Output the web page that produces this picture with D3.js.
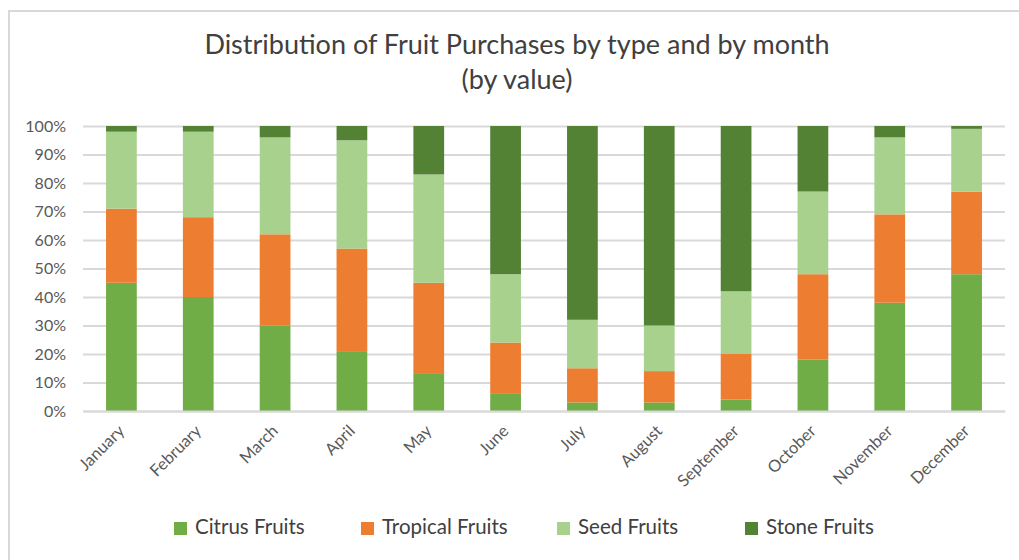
<!DOCTYPE html>
<html>
<head>
<meta charset="utf-8">
<script src="https://cdn.jsdelivr.net/npm/d3@7"></script>
<style>
  body { margin: 0; background: #fff; }
  svg { display: block; font-family: Lato, "Open Sans", sans-serif; }
</style>
</head>
<body>
<svg id="chart" width="1019" height="560"></svg>
<script>
// data (percent of monthly purchase value)
const months = ["January", "February", "March", "April", "May", "June",
                "July", "August", "September", "October", "November", "December"];
const citrus   = [45, 40, 30, 21, 13, 6, 3, 3, 4, 18, 38, 48];
const tropical = [26, 28, 32, 36, 32, 18, 12, 11, 16, 30, 31, 29];
const seed     = [27, 30, 34, 38, 38, 24, 17, 16, 22, 29, 27, 22];
const stone    = [2, 2, 4, 5, 17, 52, 68, 70, 58, 23, 4, 1];
const seriesNames = ["Citrus Fruits", "Tropical Fruits", "Seed Fruits", "Stone Fruits"];
const colors = ["#70AD47", "#ED7D31", "#A9D18E", "#548235"];

const svg = d3.select("#chart");
const margin = { top: 126, left: 83, right: 14, bottom: 149 };
const width = 1019 - margin.left - margin.right;
const height = 560 - margin.top - margin.bottom;

// chart frame (top and left edges visible)
svg.append("path")
    .attr("d", "M9,560V11H1019")
    .attr("fill", "none")
    .attr("stroke", "#d9d9d9")
    .attr("stroke-width", 2);

// title
const title = svg.append("text")
    .attr("text-anchor", "middle")
    .attr("fill", "#404040")
    .attr("font-size", 27);
title.append("tspan").attr("x", 517).attr("y", 54).text("Distribution of Fruit Purchases by type and by month");
title.append("tspan").attr("x", 517).attr("y", 89).text("(by value)");

const table = months.map((m, i) => ({
    month: m,
    "Citrus Fruits": citrus[i],
    "Tropical Fruits": tropical[i],
    "Seed Fruits": seed[i],
    "Stone Fruits": stone[i]
}));
const stacked = d3.stack().keys(seriesNames)(table);

const x = d3.scaleBand().domain(months).range([0, width]).paddingInner(0.6).paddingOuter(0.3);
const y = d3.scaleLinear().domain([0, 100]).range([height, 0]);

const g = svg.append("g").attr("transform", `translate(${margin.left},${margin.top})`);

// gridlines + y labels
const yAxis = g.append("g")
    .call(d3.axisLeft(y).tickValues(d3.range(0, 101, 10)).tickSize(-width).tickFormat(d => d + "%"));
yAxis.select(".domain").remove();
yAxis.selectAll(".tick line").attr("stroke", "#d9d9d9").attr("stroke-width", 2);
yAxis.selectAll(".tick text")
    .attr("x", -17)
    .attr("fill", "#595959")
    .attr("font-size", 16)
    .attr("font-family", "Lato, sans-serif");

// bars
g.append("g").selectAll("g")
    .data(stacked)
    .enter().append("g")
    .attr("fill", (d, i) => colors[i])
    .selectAll("rect")
    .data(d => d)
    .enter().append("rect")
    .attr("x", d => x(d.data.month))
    .attr("y", d => y(d[1]))
    .attr("width", x.bandwidth())
    .attr("height", d => y(d[0]) - y(d[1]));

// x axis
const xAxis = g.append("g")
    .attr("transform", `translate(0,${height})`)
    .call(d3.axisBottom(x).tickSize(0));
xAxis.select(".domain").attr("stroke", "#d9d9d9").attr("stroke-width", 2);
xAxis.selectAll(".tick text")
    .attr("fill", "#595959")
    .attr("font-size", 16.5)
    .attr("font-family", "Lato, sans-serif")
    .attr("text-anchor", "end")
    .attr("dy", null)
    .attr("y", 0)
    .attr("transform", "translate(4,21) rotate(-45)");

// legend
const legendX = [174, 361, 557, 745];
const legend = svg.append("g").selectAll("g")
    .data(seriesNames)
    .enter().append("g")
    .attr("transform", (d, i) => `translate(${legendX[i]},522)`);
legend.append("rect")
    .attr("width", 13)
    .attr("height", 13)
    .attr("fill", (d, i) => colors[i]);
legend.append("text")
    .attr("x", 21)
    .attr("y", 12)
    .attr("fill", "#404040")
    .attr("font-size", 20.5)
    .text(d => d);
</script>
</body>
</html>
